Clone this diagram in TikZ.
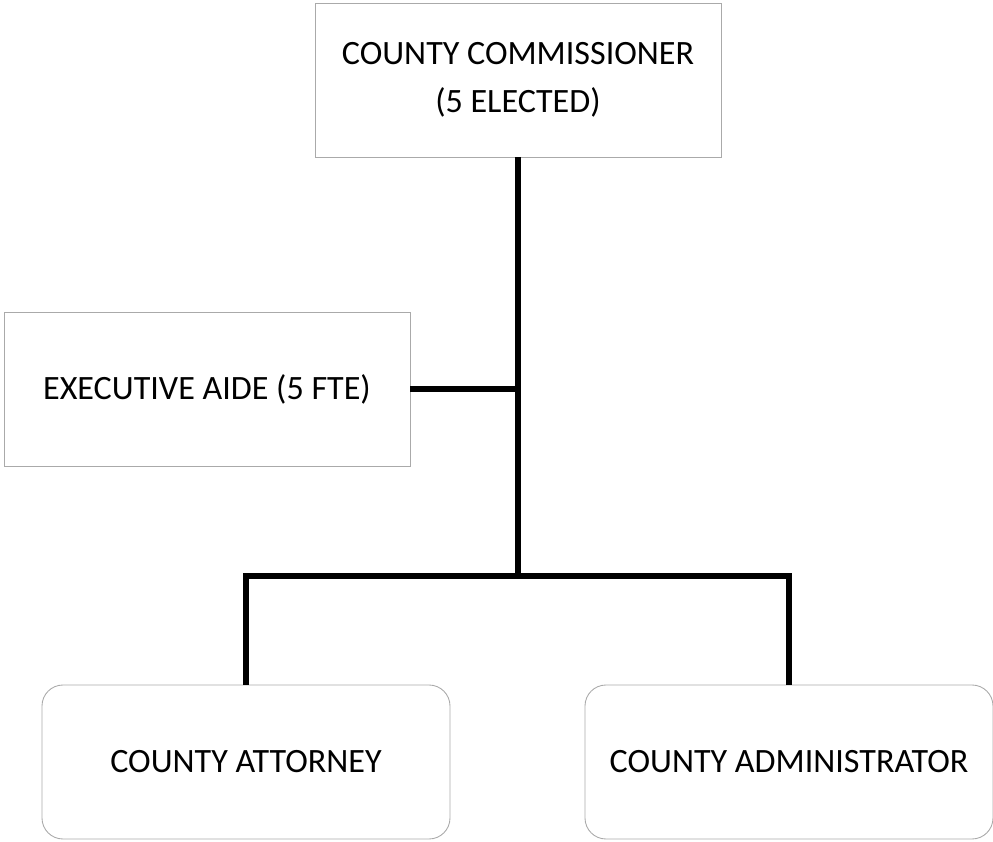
\documentclass[tikz,border=0pt]{standalone}
\usepackage{fontspec}
\setmainfont{Carlito}
\usetikzlibrary{positioning}

\definecolor{boxgray}{RGB}{170,170,170}

\tikzstyle{office_node} = [rectangle, draw=boxgray, line width=0.5pt, fill=white, text centered, align=center, minimum width=8.12cm, minimum height=3.08cm, font=\fontsize{19.4}{27.3}\selectfont]
\tikzstyle{unit_node} = [office_node, rounded corners=0.42cm, minimum width=8.16cm]
\tikzstyle{link} = [line width=3.3pt, black]

\begin{document}
\begin{tikzpicture}
    \useasboundingbox (0,0) rectangle (19.86,16.82);

    \node (board) [office_node] at (10.36,15.22) {COUNTY COMMISSIONER\\(5 ELECTED)};
    \node (aide)  [office_node] at (4.14,9.04) {EXECUTIVE AIDE (5 FTE)};
    \node (atty)  [unit_node] at (4.92,1.58) {COUNTY ATTORNEY};
    \node (admin) [unit_node] at (15.78,1.58) {COUNTY ADMINISTRATOR};

    \coordinate (split) at (10.36,5.3);

    \draw [link] (board.south) -- (split);
    \draw [link] (aide.east) -- (aide.east -| board.south);
    \draw [link] (atty.north) |- (split) -| (admin.north);
\end{tikzpicture}
\end{document}
